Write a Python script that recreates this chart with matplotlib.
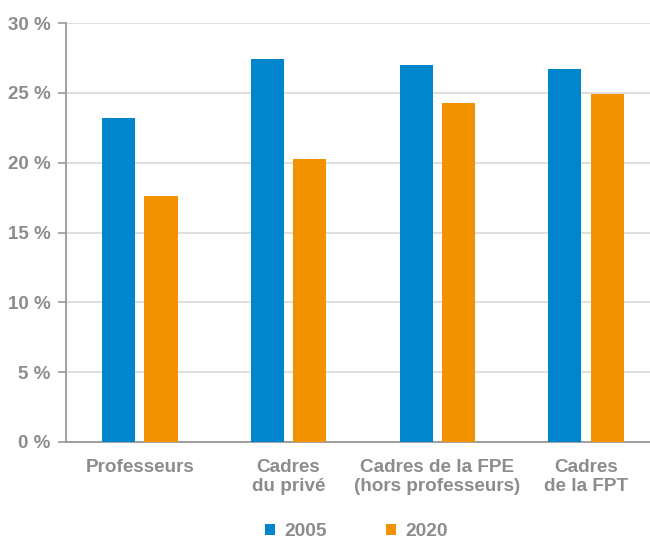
import numpy as np
import matplotlib
matplotlib.use("Agg")
import matplotlib.pyplot as plt

plt.rcParams["font.family"] = ["Liberation Sans", "DejaVu Sans"]

categories = ["Professeurs", "Cadres\ndu privé",
              "Cadres de la FPE\n(hors professeurs)", "Cadres\nde la FPT"]
years = ["2005", "2020"]
share_2005 = [23.2, 27.4, 27.0, 26.7]
share_2020 = [17.6, 20.3, 24.3, 24.9]

BLUE = "#0086CD"
ORANGE = "#F39200"
GREY = "#8C8C8C"

fig = plt.figure(figsize=(6.5, 5.39), dpi=100)
ax = fig.add_axes([0.1015, 0.180, 0.8985, 0.777])

x = np.arange(len(categories))
w = 0.222
ax.bar(x - 0.142, share_2005, w, color=BLUE, label=years[0], zorder=3)
ax.bar(x + 0.142, share_2020, w, color=ORANGE, label=years[1], zorder=3)

ax.set_ylim(0, 30)
ax.set_xlim(-0.497, 3.43)
ax.set_yticks(range(0, 31, 5))
ax.set_yticklabels([f"{v} %" for v in range(0, 31, 5)])
ax.set_xticks(x)
ax.set_xticklabels(categories, linespacing=1.2)
ax.grid(axis="y", color="#D9D9D9", lw=1.2, zorder=0)

for s in ("top", "right"):
    ax.spines[s].set_visible(False)
for s in ("left", "bottom"):
    ax.spines[s].set_color("#999999")
    ax.spines[s].set_linewidth(1.3)

ax.tick_params(axis="y", colors="#999999", labelcolor=GREY, length=6,
               width=1.2, labelsize=13.5, pad=5)
ax.tick_params(axis="x", length=0, labelcolor=GREY, labelsize=13.6, pad=12)
for lbl in ax.get_xticklabels() + ax.get_yticklabels():
    lbl.set_fontweight("bold")

leg = fig.legend(loc="center", bbox_to_anchor=(0.548, 0.013), ncol=2,
                 frameon=False, handlelength=0.55, handleheight=0.55,
                 handletextpad=0.45, columnspacing=3.1,
                 prop={"weight": "bold", "size": 13.8})
for t in leg.get_texts():
    t.set_color(GREY)

fig.savefig("out.png", dpi=100)
